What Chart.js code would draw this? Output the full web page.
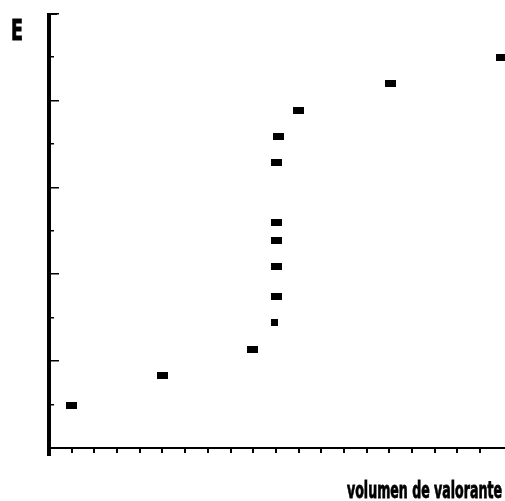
<!DOCTYPE html>
<html>
<head>
<meta charset="utf-8">
<script src="https://cdn.jsdelivr.net/npm/chart.js@4.4.0/dist/chart.umd.min.js"></script>
<style>
  html, body { margin: 0; padding: 0; background: #fff; }
  #chart { display: block; }
</style>
</head>
<body>
<canvas id="chart" width="505" height="501"></canvas>
<script>
// --- data ---
const xValues = [1.01, 5.02, 8.98, 9.92, 10.01, 10.01, 10.01, 10.01, 10.01, 10.11, 10.99, 15.04, 19.94];
const yValues = [0.97, 1.67, 2.27, 2.89, 3.49, 4.18, 4.78, 5.19, 6.57, 7.17, 7.77, 8.39, 8.99];
const yTicks = [1, 2, 3, 4, 5, 6, 7, 8, 9, 10];
const xTicks = [1, 2, 3, 4, 5, 6, 7, 8, 9, 10, 11, 12, 13, 14, 15, 16, 17, 18, 19];
const yTitle = 'E';
const xTitle = 'volumen de valorante';

// marker: small black rectangle
function makeMarker(w, h) {
    const c = document.createElement('canvas');
    c.width = w; c.height = h;
    const g = c.getContext('2d');
    g.fillStyle = '#000';
    g.fillRect(0, 0, w, h);
    return c;
}
const wideMarker = makeMarker(11, 7);
const smallMarker = makeMarker(7, 7);

// hand-drawn style axes
const axesPlugin = {
    id: 'axesPlugin',
    afterDraw(chart) {
        const ctx = chart.ctx;
        const xs = chart.scales.x, ys = chart.scales.y;
        const x0 = xs.getPixelForValue(0);
        const y0 = ys.getPixelForValue(0);
        const yTop = ys.getPixelForValue(10);
        ctx.save();
        ctx.fillStyle = '#000';

        // y axis (thick) with top cap
        ctx.fillRect(x0 - 2, yTop, 4, y0 - yTop + 8);
        ctx.fillRect(x0 - 2, yTop - 1, 10, 2);

        // y ticks: long ones on even values, short ones on odd values
        yTicks.forEach(v => {
            const py = Math.round(ys.getPixelForValue(v));
            const len = v % 2 === 0 ? 8 : 3;
            ctx.fillRect(x0 + 2, py - 1, len, 1.5);
        });

        // x axis
        ctx.fillRect(x0 - 2, y0 - 1, chart.width - x0 + 2, 2);
        xTicks.forEach(v => {
            const px = Math.round(xs.getPixelForValue(v));
            ctx.fillRect(px - 1, y0 + 1, 2, 4);
        });

        // axis titles
        ctx.textBaseline = 'alphabetic';
        ctx.strokeStyle = '#000';
        ctx.lineWidth = 0.8;
        ctx.font = "bold 28px 'DejaVu Sans Condensed', 'DejaVu Sans', sans-serif";
        ctx.textAlign = 'left';
        ctx.fillText(yTitle, 11, 40, 12);
        ctx.strokeText(yTitle, 11, 40, 12);

        ctx.font = "bold 23px 'DejaVu Sans Condensed', 'DejaVu Sans', sans-serif";
        ctx.textAlign = 'right';
        ctx.fillText(xTitle, 502, 498, 155);
        ctx.strokeText(xTitle, 502, 498, 155);
        ctx.restore();
    }
};

const points = xValues.map((x, i) => ({ x: x, y: yValues[i] }));

new Chart(document.getElementById('chart'), {
    type: 'scatter',
    data: {
        datasets: [{
            data: points,
            clip: false,
            pointStyle: ctx => (ctx.dataIndex === 3 ? smallMarker : wideMarker),
            pointRadius: 5,
            pointHoverRadius: 5,
            backgroundColor: '#000',
            borderColor: '#000'
        }]
    },
    options: {
        responsive: false,
        animation: false,
        events: [],
        layout: { padding: { left: 49, right: 0, top: 14, bottom: 53 } },
        plugins: { legend: { display: false }, tooltip: { enabled: false } },
        scales: {
            x: { type: 'linear', min: 0, max: 19.83, display: false },
            y: { type: 'linear', min: 0, max: 10, display: false }
        }
    },
    plugins: [axesPlugin]
});
</script>
</body>
</html>
